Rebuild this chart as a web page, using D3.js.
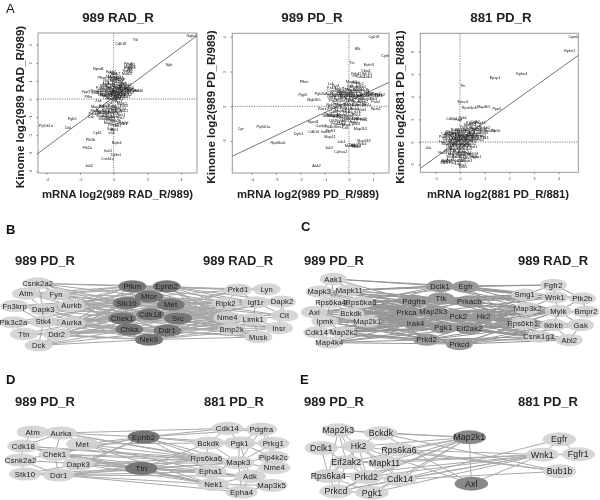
<!DOCTYPE html>
<html><head><meta charset="utf-8">
<script src="https://cdn.jsdelivr.net/npm/d3@7/dist/d3.min.js"></script>
<style>html,body{margin:0;padding:0;background:#fff}svg{display:block;filter:blur(.35px)}text{font-family:"Liberation Sans",Arial,sans-serif}</style>
</head><body><svg id="c" width="600" height="500"></svg>
<script>
// ---------- kinase names used for the unreadable labels inside the dense clouds
const cloudNames=["Prkd1","Cdk2","Mapk1","Stk3","Ptk2","Lck","Yes1","Csk","Mark2","Erbb2","Pak4","Nek7","Tnk2","Map4k5","Stk24","Gsk3b","Camk2d","Mst1r","Rock2","Tbk1","Ulk1","Syk","Abl1","Aak1"];

// ---------- panel A1: 989 RAD_R  [name, mRNA, kinome]
const radLabelled=[["Ggta2",4.64,3.48],["Ttk",1.3,3.3],["Cdk18",.42,3.08],["Npk",3.3,1.88],["Npsd1",-.9,1.68],["Pfkm",-.7,1.2],["Ppp5",-1.65,.4],["Pfkn",-1.5,.15],["Zak",-.9,-.1],["Fgfr2",-2.46,-1.1],["Dck",-2.7,-1.6],["Pip5k1a",-4.03,-1.47],["Cpk1",-.97,-1.84],["Ptk2b",-1.37,-2.26],["Ptk2a",-1.57,-2.69],["Ripk4",.18,-2.41],["Irak1",-.32,-2.87],["Tgfbr1",.12,-3.09],["Csnk1e",-.36,-3.31],["Jak2",-1.47,-3.68],["Irak",-.12,-1.84],["Stk40",1.47,.46]];
const radCloud=[[.9,1.95],[1.02,1.9],[.95,1.8],[1.08,1.75],[.85,1.7],[1,1.62],[.75,1.55],[.92,1.5],[.8,1.42],[-.15,1.5],[-.05,1.42],[.12,1.38],[-.25,1.25],[.05,1.22],[.3,1.2],[-.1,1.1],[.2,1.05],[.42,1.1],[-.3,1],[.1,.96],[.38,.95],[.6,.9],[-.45,.85],[-.12,.85],[.2,.82],[.5,.8],[.75,.8],[-.6,.72],[-.3,.7],[-.05,.72],[.15,.7],[.36,.68],[.62,.7],[.9,.62],[-.8,.6],[-.5,.58],[-.22,.6],[.02,.58],[.25,.6],[.48,.56],[.72,.58],[1.05,.5],[-1.05,.48],[-.7,.48],[-.38,.46],[-.12,.48],[.1,.47],[.34,.48],[.58,.46],[.82,.44],[1.2,.44],[-1.1,.36],[-.82,.36],[-.55,.36],[-.28,.38],[-.05,.36],[.18,.38],[.42,.36],[.66,.36],[.95,.34],[-.72,.26],[-.42,.26],[-.16,.28],[.06,.27],[.28,.26],[.5,.26],[.78,.24],[-.6,.16],[-.28,.16],[0,.16],[.22,.15],[.44,.14],[.68,.12],[-.35,.05],[-.08,.04],[.16,.02],[.38,.04],[.05,-.1],[.3,-.14],[-.25,-.2],[.5,-.25],[-.55,-.36],[-.1,-.36],[.2,-.4],[.62,-.38],[-.95,-.45],[-.4,-.5],[-.05,-.52],[.3,-.55],[-1.1,-.65],[-.75,-.62],[-.5,-.66],[-.25,-.68],[0,-.66],[.28,-.7],[.6,-.64],[-1.2,-.8],[-.85,-.76],[-.6,-.78],[-.35,-.8],[-.12,-.78],[.14,-.82],[.45,-.85],[-1.35,-1],[-.7,-.92],[-.42,-.95],[-.18,-.96],[.1,-.98],[.4,-1.02],[-.5,-1.1],[-.2,-1.15],[.12,-1.2],[.45,-1.3],[-.3,-1.32],[0,-1.4],[.2,-1.5],[.6,-1.35],[-.2,-1.65],[.05,-1.7]];
// ---------- panel A2: 989 PD_R
const pdLabelled=[["Cyk18",1.03,4],["Blk",.36,3.3],["Cyth",1.49,2.9],["Ttn",.12,2.52],["Epth3",.82,2.38],["Cbia1",.7,2.04],["Stk10",.73,1.87],["Ddr1",.8,1.73],["Src",.25,1.75],["Pfkm",-1.85,1.42],["Ppp5",-1.89,.65],["Mgk3k5",-1.44,.38],["Pyk2b",-1.19,.71],["Nprk2",1.11,-.15],["Cpr",-4.45,-1.29],["Pip5k1a",-3.52,-1.19],["Rps6ka6",-2.92,-2.1],["Dyrk1",-2.07,-1.56],["Map11",-.78,-1.75],["Jak1",-.3,-2.04],["Jak2",-.81,-2.37],["Cphsa2",-.33,-2.6],["Map3k3",.62,-2],["Map2k2",.48,-1.31],["Ttbk1",.18,-2.2],["Aak2",-1.33,-3.44],["Cdk14",-1.45,-1.45],["Npsd1",-1.47,-.9],["Csnk2",-1.15,-1.1],["Irak4",-.98,-1.45],["Fgfr1",-.75,-1.4]];
const pdCloud=[[.3,1.85],[.5,1.68],[.1,1.42],[.28,1.35],[.45,1.3],[-.75,1.3],[-.55,1.2],[.05,1.2],[.25,1.14],[.5,1.12],[-.72,1.05],[-.4,1.02],[-.1,1],[.12,.98],[.35,.96],[.62,.95],[-.6,.88],[-.3,.85],[-.08,.84],[.18,.84],[.42,.84],[.72,.82],[.9,.75],[-.8,.72],[-.55,.72],[-.35,.7],[-.15,.7],[.02,.7],[.2,.7],[.4,.68],[.58,.7],[.85,.68],[1.1,.7],[1.28,.68],[-.7,.6],[-.5,.6],[-.3,.6],[-.12,.6],[.06,.6],[.25,.6],[.45,.6],[.65,.6],[1,.6],[1.22,.62],[-.72,.48],[-.48,.45],[-.22,.48],[0,.46],[.22,.48],[.44,.44],[.7,.46],[1,.42],[-.65,.3],[-.4,.32],[-.15,.3],[.1,.3],[.32,.28],[.58,.28],[1.1,.26],[-.75,.12],[-.5,.14],[-.28,.12],[-.02,.12],[.2,.12],[.42,.1],[.72,.08],[-1.05,-.12],[-.72,-.1],[-.48,-.08],[-.25,-.1],[0,-.12],[.24,-.12],[.52,-.18],[-.62,-.3],[-.35,-.28],[-.12,-.32],[.12,-.34],[.36,-.32],[-.85,-.45],[-.55,-.48],[-.28,-.48],[.02,-.52],[.3,-.5],[-.9,-.55],[-.75,-.55],[-.6,-.55],[-.45,-.62],[-.2,-.66],[.08,-.7],[.3,-.72],[.5,-.7],[.6,-.78],[-.65,-.85],[-.4,-.8],[-.15,-.85],[.2,-.88],[-.55,-1.02],[-.3,-1],[-.05,-1.05],[.3,-1],[-.85,-1.2],[-.65,-1.18],[-.4,-1.16],[-.15,-1.25],[.05,-2.25],[.28,-2.28],[.55,-2.15],[.32,-2.35]];
// ---------- panel A3: 881 PD_R
const p881Labelled=[["Cym0",4.6,9.26],["Ephe1",4.45,8.03],["Ephe4",2.51,6.03],["Epsp1",1.43,5.65],["Ttn",.11,4.97],["Epsc4",.11,3.56],["Rps6ka6",.38,3.03],["Map3k5",.96,3.12],["Ppp5",1.5,2.97],["Cdk14",-.34,2.06],["Syk1",.11,2.18],["Pdgf",-.07,1.94],["Jak",-1.28,-.5],["Pip5k",1.45,1],["Epha1",.65,-1.25],["Ddr1",.12,-2.15],["Stk4",-.55,-1.7]];
const p881Cloud=[[.45,1.7],[.62,1.82],[.82,1.72],[.3,1.55],[.5,1.52],[.72,1.45],[.15,1.32],[.38,1.3],[.6,1.28],[1.02,1.3],[-.2,1.08],[0,1.12],[.2,1.1],[.42,1.08],[.65,1.06],[.88,1.1],[1.15,1],[-.4,.9],[-.22,.85],[-.05,.9],[.12,.88],[.3,.9],[.48,.86],[.7,.85],[.95,.8],[-.58,.72],[-.38,.7],[-.2,.7],[-.05,.68],[.1,.7],[.26,.68],[.42,.68],[.6,.68],[.85,.6],[-.68,.5],[-.48,.52],[-.3,.5],[-.14,.52],[0,.5],[.15,.52],[.3,.5],[.46,.52],[.66,.48],[1,.42],[-.55,.32],[-.35,.32],[-.2,.34],[-.06,.32],[.1,.34],[.25,.32],[.42,.3],[.6,.3],[.82,.25],[-.45,.12],[-.3,.1],[-.14,.14],[.02,.12],[.18,.1],[.36,.12],[.55,.08],[-.7,.05],[-.48,-.1],[-.3,-.08],[-.12,-.1],[.05,-.12],[.24,-.1],[.44,-.12],[-.42,-.3],[-.25,-.3],[-.08,-.34],[.12,-.32],[.3,-.36],[.5,-.4],[-.38,-.55],[-.2,-.56],[0,-.6],[.18,-.62],[.38,-.62],[-.5,-.8],[-.28,-.8],[-.08,-.85],[.12,-.88],[.3,-.95],[-.7,-.95],[-.42,-1.02],[-.2,-1.06],[0,-1.1],[.22,-1.15],[.45,-1.05],[-.35,-1.25],[-.12,-1.3],[.1,-1.35],[.3,-1.4],[.6,-1.3],[-.62,-1.6],[-.38,-1.55],[-.15,-1.6],[.05,-1.62],[.28,-1.65],[-.65,-1.85],[-.3,-1.82],[-.08,-1.9],[.08,-1.98]];

// ---------- scatter panel axis data
const radXTicks=[-4,-2,0,2,4], radYTicks=[-4,-3,-2,-1,0,1,2,3];
const pdXTicks=[-4,-3,-2,-1,0,1], pdYTicks=[-2,0,2,4];
const p881XTicks=[-1,0,1,2,3,4], p881YTicks=[-2,0,2,4,6,8];
const radXDomain=[-4.5,4.96], radYDomain=[-4.09,3.65], radFit=[[-4.5,-3],[4.96,3.5]];
const pdXDomain=[-4.8,1.65], pdYDomain=[-3.84,4.2], pdFit=[[-4.8,-2.87],[1.65,1.38]];
const p881XDomain=[-1.61,4.8], p881YDomain=[-2.67,9.6], p881Fit=[[-1.61,-2.32],[4.8,7.65]];

// ---------- networks: names, positions read in crop units (0-900 wide), tier 0 side / 1 centre
const bNames=["Csnk2a2","Atm","Fyn","Fn3krp","Dapk3","Aurkb","Pik3c2a","Stk4","Aurka","Ttn","Ddr2","Dck","Pfkm","Ephb2","Mtor","Stk10","Met","Chek1","Cdk18","Src","Chka","Ddr1","Nek9","Prkd1","Lyn","Ripk2","Igf1r","Dapk2","Cit","Nme4","Limk1","Insr","Bmp2k","Musk"];
const bX=[113,78,168,44,130,215,40,130,215,72,170,116,397,500,447,380,512,367,451,534,388,502,447,714,800,677,767,846,853,682,760,837,695,775];
const bY=[205,236,238,273,283,272,322,320,323,357,358,391,214,214,245,264,269,310,298,310,343,347,374,224,223,265,262,260,302,308,313,339,343,366];
const bCentre=[12,13,14,15,16,17,18,19,20,21,22];
const bEdges=[[12,[0,1,2,4,5,8,23,24,25,26,29,30,32]],[13,[0,2,4,5,7,10,23,25,26,27,29,32,33]],[14,[0,1,3,5,8,11,23,25,26,28,29,30,33]],[15,[0,2,3,5,6,8,10,25,26,29,30,31,32]],[16,[1,4,5,7,9,10,23,25,27,28,29,30,32,33]],[17,[1,2,4,6,7,8,10,25,26,29,30,31,32,33]],[18,[0,2,4,5,7,8,11,23,25,26,28,29,30,32]],[19,[1,3,5,7,8,10,25,26,27,29,30,31,33]],[20,[0,4,6,7,9,10,11,25,29,30,31,32,33]],[21,[2,5,7,8,9,10,11,25,29,30,32,33,28]],[22,[4,7,8,9,10,11,29,30,31,32,33,26]],[0,[2,4,1]],[1,[4,2]],[3,[4,7]],[4,[7,8,5]],[6,[7,9]],[7,[10,11,8]],[10,[11,8]],[23,[25,26,24]],[25,[26,29]],[26,[27,28,30]],[27,[28,31]],[29,[30,32]],[30,[31,33,32]],[32,[33]]];

const cNames=["Aak1","Mapk3","Mapk11","Rps6ka4","Rps6ka6","Axl","Bckdk","Ipmk","Map2k1","Cdk14","Map2k2","Map4k4","Dclk1","Egfr","Pdgfra","Ttk","Prkacb","Prkca","Map2k3","Pck2","Hk2","Irak4","Pgk1","Eif2ak2","Prkd2","Prkcd","Fgfr2","Smg1","Wnk1","Ptk2b","Map3k2","Mylk","Bmpr2","Rps6kb1","Ikbkb","Gak","Csnk1g3","Abl2"];
const cX=[100,58,148,92,183,43,153,75,202,50,132,88,420,497,342,423,508,320,400,475,551,347,430,508,380,478,760,674,765,847,683,775,858,668,760,842,716,808];
const cY=[192,230,226,262,262,291,296,319,319,352,352,383,213,215,258,250,259,293,290,305,305,325,338,340,374,387,210,239,247,250,280,288,290,325,330,330,365,375];
const cCentre=[12,13,14,15,16,17,18,19,20,21,22,23,24,25];
const cEdges=[[12,[0,1,2,4,6,26,27,28,30,31]],[13,[0,2,3,26,27,28,29,31,33]],[14,[0,1,3,4,5,6,8,27,28,30,31,33,36]],[15,[1,2,3,4,6,7,8,10,27,28,30,31,34,33]],[16,[1,2,4,5,6,8,9,27,28,30,31,33,34,36]],[17,[1,2,3,4,5,6,7,8,10,11,30,31,33,36]],[18,[1,3,4,5,6,7,8,9,10,28,30,31,33,34,36]],[19,[2,3,4,6,8,9,10,30,31,32,33,34,35,36]],[20,[3,4,6,7,8,10,27,30,31,33,34,35,36,37]],[21,[1,3,5,6,7,8,9,10,11,30,33,36,37]],[22,[3,5,6,7,8,9,10,11,30,31,33,34,36,37]],[23,[4,6,8,9,10,11,30,31,33,34,35,36,37]],[24,[5,7,9,10,11,0,30,33,36,37,34]],[25,[5,7,9,10,11,8,33,34,35,36,37,31]],[0,[1,3]],[1,[2,3]],[3,[5,6,7]],[4,[6,8]],[6,[8,10]],[7,[9,10]],[9,[11]],[26,[27,28,29]],[28,[29,30,31]],[29,[31,32]],[31,[32,33,34,35]],[33,[34,36]],[34,[35,37]],[35,[37]],[36,[37]]];

const dNames=["Atm","Aurka","Cdk18","Met","Chek1","Csnk2a2","Dapk3","Stk10","Ddr1","Ephb2","Ttn","Cdk14","Pdgfra","Bckdk","Pgk1","Prkg1","Rps6ka6","Pip4k2c","Mapk3","Nme4","Epha1","Adk","Nek1","Map3k5","Epha4"];
const dX=[98,183,70,247,164,62,235,75,176,431,424,682,784,625,719,820,619,820,715,823,632,750,641,815,725];
const dY=[216,219,258,252,283,300,312,342,345,231,325,205,208,249,249,250,295,292,308,323,335,349,373,376,396];
const dCentre=[9,10];
const dEdges=[[9,[1,3,4,5,6,8,11,12,13,14,16,18,20]],[10,[2,4,6,7,8,13,16,18,20,21,22,24]],[1,[11,16,18,2,4,0]],[3,[13,16,20,22,1]],[2,[16,18,22,4,0,5]],[4,[18,16,20,22,8,6]],[6,[16,18,20,22,21,7]],[8,[20,22,21,24,18,16,7]],[5,[8,6,7]],[11,[13,14,12]],[12,[14,15,17,18]],[13,[14,16,18]],[14,[18,15,21,17]],[15,[17,18]],[17,[18,19,21]],[18,[20,21,19,24]],[20,[21,22]],[21,[22,23,24,19]],[22,[24,23]],[23,[24]]];

const eNames=["Map2k3","Bckdk","Dclk1","Hk2","Rps6ka6","Eif2ak2","Mapk11","Rps6ka4","Prkd2","Cdk14","Prkcd","Pgk1","Map2k1","Axl","Egfr","Wnk1","Fgfr1","Bub1b"];
const eX=[115,243,64,176,297,139,254,85,199,300,108,216,508,514,778,727,835,779];
const eY=[211,220,264,259,269,307,308,348,351,358,394,398,232,371,238,284,283,334];
const eCentre=[12,13];
const eEdges=[[12,[0,1,3,4,5,6,8,9,10,11,13]],[13,[1,3,15]],[15,[4,5,6,7,8,9,10,11,16,14]],[17,[1,3,4,9]],[14,[9,16]],[16,[15]],[0,[1,3,5,7,8]],[2,[3,5,7]],[3,[5,6,7,8,9,1]],[5,[7,8,10,6]],[6,[8,9]],[7,[8,10,11]],[8,[9,10,11]],[9,[10,11]],[10,[11]]];

const letters=[["A",6,13],["B",6,234],["C",301,231],["D",6,384],["E",300,384]];

// ---------- drawing
const svg=d3.select("#c");
letters.forEach(([t,x,y])=>svg.append("text").attr("x",x).attr("y",y).attr("font-size",13).attr("font-weight",t==="A"?400:700).attr("fill","#111").text(t));

function scatter(o){
 const x=d3.scaleLinear(o.xd,o.xr), y=d3.scaleLinear(o.yd,o.yr);
 const g=svg.append("g");
 const ax=g.append("g").attr("transform",`translate(0,${o.yr[0]})`).call(d3.axisBottom(x).tickValues(o.xt).tickSize(1.5).tickPadding(4).tickFormat(d3.format("d")));
 const ay=g.append("g").attr("transform",`translate(${o.xr[0]},0)`).call(d3.axisLeft(y).tickValues(o.yt).tickSize(1.5).tickPadding(5).tickFormat(d3.format("d")));
 [ax,ay].forEach(a=>{a.select(".domain").remove();a.selectAll("line").attr("stroke","#666");a.selectAll("text").attr("font-size",3.5).attr("fill","#333");});
 ay.selectAll(".tick text").attr("text-anchor","middle").attr("x",0).attr("dy",0).attr("transform","translate(-6,0) rotate(-90)");
 g.append("rect").attr("x",o.xr[0]).attr("y",o.yr[1]).attr("width",o.xr[1]-o.xr[0]).attr("height",o.yr[0]-o.yr[1]).attr("fill","none").attr("stroke","#999").attr("stroke-width",1);
 g.append("line").attr("x1",o.xr[0]).attr("x2",o.xr[1]).attr("y1",y(0)).attr("y2",y(0)).attr("stroke","#444").attr("stroke-width",.7).attr("stroke-dasharray","1.2 1.2");
 g.append("line").attr("x1",x(0)).attr("x2",x(0)).attr("y1",o.yr[0]).attr("y2",o.yr[1]).attr("stroke","#666").attr("stroke-width",.8).attr("stroke-dasharray","1.2 1.2");
 g.append("path").attr("d",d3.line().x(d=>x(d[0])).y(d=>y(d[1]))(o.fit)).attr("stroke","#555").attr("stroke-width",.8).attr("fill","none");
 const pts=o.cloud.map((d,i)=>[cloudNames[i%cloudNames.length],d[0],d[1]]).concat(o.labelled);
 g.selectAll(".pt").data(pts).join("text").attr("class","pt").attr("x",d=>x(d[1])).attr("y",d=>y(d[2])).attr("dy",".35em").attr("text-anchor","middle").attr("font-size",3.8).attr("fill","#111").text(d=>d[0]);
 g.append("text").attr("x",o.tx).attr("y",22).attr("text-anchor","middle").attr("font-size",13.3).attr("font-weight",700).attr("fill","#222").text(o.title);
 g.append("text").attr("x",o.xc).attr("y",198).attr("text-anchor","middle").attr("font-size",11.3).attr("font-weight",700).attr("fill","#222").text(o.xl);
 g.append("text").attr("transform",`translate(${o.ylx},107) rotate(-90)`).attr("text-anchor","middle").attr("font-size",11.6).attr("font-weight",700).attr("fill","#222").text(o.yl);
}
scatter({xd:radXDomain,yd:radYDomain,xr:[38,197],yr:[173,33],xt:radXTicks,yt:radYTicks,fit:radFit,cloud:radCloud,labelled:radLabelled,title:"989 RAD_R",tx:118,xl:"mRNA log2(989 RAD_R/989)",xc:117.5,yl:"Kinome log2(989 RAD_R/989)",ylx:24});
scatter({xd:pdXDomain,yd:pdYDomain,xr:[232.3,389],yr:[173,33.3],xt:pdXTicks,yt:pdYTicks,fit:pdFit,cloud:pdCloud,labelled:pdLabelled,title:"989 PD_R",tx:312,xl:"mRNA log2(989 PD_R/989)",xc:308,yl:"Kinome log2(989 PD_R/989)",ylx:215});
scatter({xd:p881XDomain,yd:p881YDomain,xr:[420.3,578.3],yr:[172.3,33.3],xt:p881XTicks,yt:p881YTicks,fit:p881Fit,cloud:p881Cloud,labelled:p881Labelled,title:"881 PD_R",tx:501,xl:"mRNA log2(881 PD_R/881)",xc:498,yl:"Kinome log2(881 PD_R/881)",ylx:404});

function network(o){
 const x=d3.scaleLinear([0,900],[o.ox,o.ox+300]), y=d3.scaleLinear([0,420],[o.oy,o.oy+140]);
 const g=svg.append("g");
 const links=o.edges.flatMap(([s,ts])=>ts.map(t=>[s,t]));
 g.selectAll(".e").data(links).join("line").attr("class","e").attr("x1",d=>x(o.X[d[0]])).attr("y1",d=>y(o.Y[d[0]])).attr("x2",d=>x(o.X[d[1]])).attr("y2",d=>y(o.Y[d[1]])).attr("stroke",o.ec).attr("stroke-width",o.ew);
 const nodes=o.names.map((n,i)=>({n,x:o.X[i],y:o.Y[i],c:o.centre.includes(i)}));
 g.selectAll(".n").data(nodes).join("ellipse").attr("class","n").attr("cx",d=>x(d.x)).attr("cy",d=>y(d.y)).attr("rx",o.rx).attr("ry",o.ry).attr("fill",d=>d.c?o.cf:"#d3d3d3").attr("fill-opacity",d=>d.c?1:.92);
 g.selectAll(".l").data(nodes).join("text").attr("class","l").attr("x",d=>x(d.x)).attr("y",d=>y(d.y)).attr("dy",".36em").attr("text-anchor","middle").attr("font-size",o.fs).attr("letter-spacing",".15").attr("fill","#1c1c1c").text(d=>d.n);
 o.titles.forEach(([t,tx,ty])=>g.append("text").attr("x",tx).attr("y",ty).attr("font-size",13).attr("font-weight",700).attr("fill","#222").text(t));
}
network({ox:0,oy:215,names:bNames,X:bX,Y:bY,centre:bCentre,edges:bEdges,cf:"#777",ec:"#a6a6a6",ew:1,rx:14,ry:6.2,fs:7.6,titles:[["989 PD_R",15,265],["989 RAD_R",203,265]]});
network({ox:300,oy:215,names:cNames,X:cX,Y:cY,centre:cCentre,edges:cEdges,cf:"#999",ec:"#949494",ew:1,rx:13.5,ry:6.2,fs:7.6,titles:[["989 PD_R",304,265],["989 RAD_R",518,265]]});
network({ox:0,oy:360,names:dNames,X:dX,Y:dY,centre:dCentre,edges:dEdges,cf:"#757575",ec:"#a8a8a8",ew:1,rx:16,ry:6.6,fs:7.8,titles:[["989 PD_R",15,406],["881 PD_R",204,406]]});
network({ox:300,oy:360,names:eNames,X:eX,Y:eY,centre:eCentre,edges:eEdges,cf:"#888",ec:"#aaa",ew:1,rx:16.7,ry:7,fs:8.7,titles:[["989 PD_R",304,406],["881 PD_R",518,406]]});
</script></body></html>
